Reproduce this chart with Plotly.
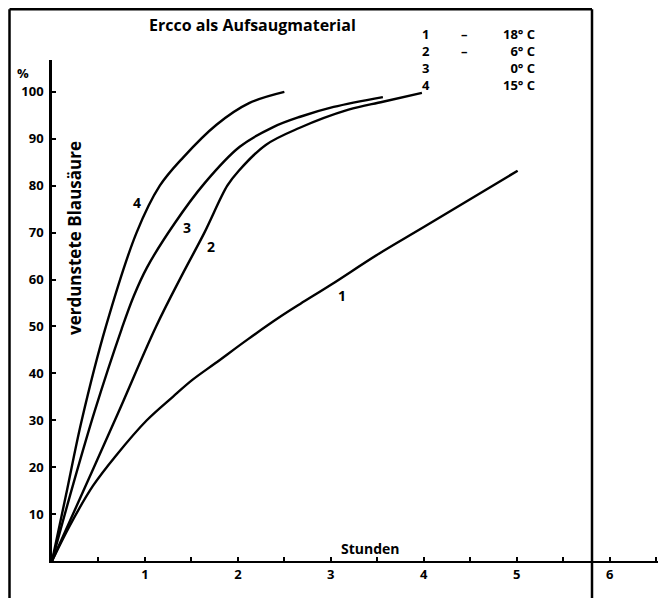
import plotly.graph_objects as go

# ---- data (hours, % evaporated HCN) ----
h1 = [0, 0.19, 0.44, 0.69, 1.02, 1.30, 1.51, 1.76, 2.11, 2.45, 2.67, 3.01, 3.50, 4.00, 5.01]
v1 = [0, 7.5, 16.0, 22.5, 30.0, 35.0, 38.6, 42.2, 47.3, 52.0, 54.8, 59.0, 65.3, 71.2, 83.2]

h2 = [0, 0.35, 0.71, 1.12, 1.40, 1.64, 1.886, 2.01, 2.30, 2.66, 3.19, 3.56, 3.98]
v2 = [0, 15.5, 31.5, 50.0, 61.0, 70.0, 80.0, 83.2, 88.7, 92.3, 96.2, 97.9, 99.8]

h3 = [0, 0.23, 0.46, 0.75, 0.88, 1.02, 1.32, 1.64, 2.02, 2.38, 2.67, 3.03, 3.56]
v3 = [0, 16.5, 32.0, 49.5, 56.5, 62.5, 72.0, 80.5, 88.3, 92.5, 94.7, 96.8, 98.9]

h4 = [0, 0.15, 0.32, 0.58, 0.91, 1.16, 1.41, 1.77, 2.12, 2.50]
v4 = [0, 14.0, 30.0, 50.0, 70.0, 80.0, 86.0, 93.0, 97.6, 100.0]

curve_ids = ["1", "2", "3", "4"]
temp_sign = ["–", "–", "", ""]
temp_vals = ["18° C", "6° C", "0° C", "15° C"]
label_x = [3.12, 1.71, 1.45, 0.91]
label_y = [56.7, 67.0, 71.2, 76.5]

x_tickvals = [0.5, 1, 1.5, 2, 2.5, 3, 3.5, 4, 4.5, 5, 5.5, 6, 6.5]
x_ticktext = ["", "1", "", "2", "", "3", "", "4", "", "5", "", "6", ""]
y_tickvals = [10, 20, 30, 40, 50, 60, 70, 80, 90, 100]
y_ticktext = ["10", "20", "30", "40", "50", "60", "70", "80", "90", "100"]

title_text = "Ercco als Aufsaugmaterial"
y_title = "verdunstete Blausäure"
x_title = "Stunden"

FONT = "Open Sans"
OFF = 8                     # page body margin
W, H = 666 - OFF, 598 - OFF
L, R, T, B = 52 - OFF, 8, 60 - OFF, 598 - 561
PW, PH = W - L - R, H - T - B


def px(x):
    return (x - OFF - L) / PW


def py(y):
    return (H - B - (y - OFF)) / PH


fig = go.Figure()
for hx, vy in [(h1, v1), (h2, v2), (h3, v3), (h4, v4)]:
    fig.add_trace(go.Scatter(x=hx, y=vy, mode="lines",
                             line=dict(color="black", width=2.4, shape="spline", smoothing=1.0),
                             showlegend=False, hoverinfo="skip"))

bold = dict(family=FONT, color="black", weight="bold")


def txt(x, y, s, size=13, anchor="center", **kw):
    return dict(x=x, y=y, xref="paper", yref="paper", text=s, showarrow=False,
                xanchor=anchor, yanchor="middle", font=dict(size=size, **bold), **kw)


ann = []
for i, cid in enumerate(curve_ids):
    ann.append(dict(x=label_x[i], y=label_y[i], xref="x", yref="y", text=cid,
                    xanchor="center", yanchor="middle",
                    showarrow=False, font=dict(size=14, **bold)))

# legend block: columns of text, one line per curve
leg_mid = py(34 + 1.5 * 16.9)
ann.append(txt(px(420), leg_mid, "<br>".join(curve_ids), anchor="left", align="left"))
ann.append(txt(px(459), py(34 + 0.5 * 16.9), "<br>".join(s for s in temp_sign if s),
               anchor="left", align="left"))
ann.append(txt(px(537), leg_mid, "<br>".join(temp_vals), size=13, anchor="right", align="right"))

ann.append(txt(px(252), py(25), title_text, size=16))
ann.append(txt(px(75), py(238), y_title, size=17, textangle=-90))
ann.append(txt(px(370), py(548), x_title, size=14))
ann.append(txt(px(23), py(73), "%", size=13))

frame = dict(color="black", width=2.5)
shapes = [
    dict(type="line", xref="paper", yref="paper", x0=px(9.5), x1=px(9.5), y0=py(610), y1=py(9.2),
         line=frame),
    dict(type="line", xref="paper", yref="paper", x0=px(9.5), x1=px(592), y0=py(9.2), y1=py(9.2),
         line=frame),
    dict(type="line", xref="paper", yref="paper", x0=px(592), x1=px(592), y0=py(9.2), y1=py(610),
         line=frame),
]

fig.update_layout(
    width=W, height=H,
    margin=dict(l=L, r=R, t=T, b=B, autoexpand=False),
    paper_bgcolor="white", plot_bgcolor="white",
    annotations=ann, shapes=shapes,
    xaxis=dict(range=[0, 6.52], showgrid=False, zeroline=False, showline=True,
               linecolor="black", linewidth=2, ticks="inside", ticklen=4, tickwidth=1.5,
               tickcolor="black", tickvals=x_tickvals, ticktext=x_ticktext,
               tickfont=dict(size=13, **bold)),
    yaxis=dict(range=[0, 106.8], showgrid=False, zeroline=False, showline=True,
               linecolor="black", linewidth=2.5, ticks="inside", ticklen=4, tickwidth=1.5,
               tickcolor="black", tickvals=y_tickvals, ticktext=y_ticktext,
               ticklabelstandoff=3, tickfont=dict(size=13, **bold)),
)

fig.write_html("out.html")
